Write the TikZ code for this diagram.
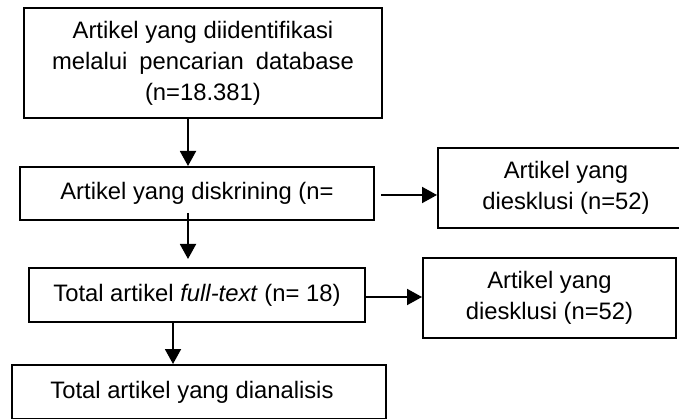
\documentclass[tikz,border=0pt]{standalone}
\usepackage{fontspec}
\setmainfont{Liberation Sans}
\usetikzlibrary{arrows.meta}
\begin{document}
\begin{tikzpicture}[x=1pt,y=-1pt,
  box/.style={draw, line width=1.9pt, rectangle, anchor=north west, inner sep=0pt,
    align=center, font=\fontsize{23.8}{31}\selectfont},
  arr/.style={line width=1.9pt, -{Triangle[length=15pt,width=16pt]}}]
\useasboundingbox (0,0) rectangle (679,419);
\clip (0,0) rectangle (679,419);
\fill[white] (0,0) rectangle (679,419);
% boxes
\node[box, minimum width=358pt, minimum height=110pt] (b1) at (23,7)
  {Artikel yang diidentifikasi\\ melalui\hspace{12pt}pencarian\hspace{12pt}database\\ (n=18.381)};
\node[box, minimum width=354pt, minimum height=53pt] (b2) at (19,166)
  {Artikel yang diskrining (n=};
\node[box, minimum width=256pt, minimum height=80pt] (rb1) at (437,147)
  {Artikel yang\\ diesklusi (n=52)};
\node[box, minimum width=336pt, minimum height=54pt] (b3) at (28,267)
  {Total artikel \textit{full-text} (n= 18)};
\node[box, minimum width=253pt, minimum height=80pt] (rb2) at (422,257)
  {Artikel yang\\ diesklusi (n=52)};
\node[box, minimum width=374pt, minimum height=54pt] (b4) at (11,364)
  {Total artikel yang dianalisis\hspace*{14pt}};
% connectors
\coordinate (a1) at (188,0);
\draw[arr] (b1.south -| a1) -- (b2.north -| a1);
\coordinate (s1) at (381,195);
\draw[arr] (s1) -- (s1 -| rb1.west);
\coordinate (s2) at (188,213);
\coordinate (e2) at (188,259);
\draw[arr] (s2) -- (e2);
\coordinate (s3) at (366,297);
\draw[arr] (s3) -- (s3 -| rb2.west);
\coordinate (a3) at (173,0);
\draw[arr] (b3.south -| a3) -- (b4.north -| a3);
\end{tikzpicture}
\end{document}
